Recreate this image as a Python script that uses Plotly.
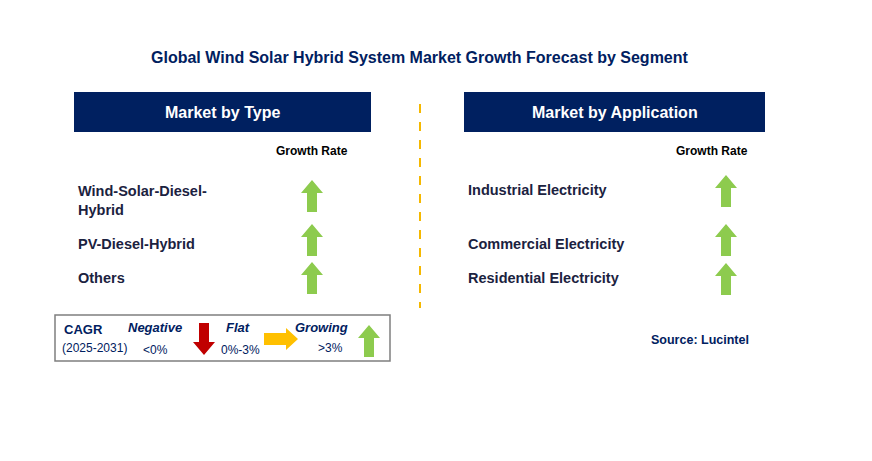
import plotly.graph_objects as go

title = "Global Wind Solar Hybrid System Market Growth Forecast by Segment"
type_labels = ["Wind-Solar-Diesel-<br>Hybrid", "PV-Diesel-Hybrid", "Others"]
type_growth = ["up", "up", "up"]
app_labels = ["Industrial Electricity", "Commercial Electricity", "Residential Electricity"]
app_growth = ["up", "up", "up"]
legend_names = ["Negative", "Flat", "Growing"]
legend_ranges = ["<0%", "0%-3%", ">3%"]

NAVY = "#002060"
TXT = "#1B2240"
GREEN = "#8DCB4E"

fig = go.Figure()
shapes = []
ann = []

def arrow(cx, cy, direction, color, L=32, W=22, S=10, H=13):
    if direction == "up":
        top, bot = cy - L/2, cy + L/2
        pts = [(cx, top), (cx+W/2, top+H), (cx+S/2, top+H), (cx+S/2, bot),
               (cx-S/2, bot), (cx-S/2, top+H), (cx-W/2, top+H)]
    elif direction == "down":
        top, bot = cy - L/2, cy + L/2
        pts = [(cx, bot), (cx+W/2, bot-H), (cx+S/2, bot-H), (cx+S/2, top),
               (cx-S/2, top), (cx-S/2, bot-H), (cx-W/2, bot-H)]
    else:
        l, r = cx - L/2, cx + L/2
        pts = [(r, cy), (r-H, cy-W/2), (r-H, cy-S/2), (l, cy-S/2),
               (l, cy+S/2), (r-H, cy+S/2), (r-H, cy+W/2)]
    path = "M " + " L ".join(f"{x},{y}" for x, y in pts) + " Z"
    shapes.append(dict(type="path", path=path, fillcolor=color, line=dict(width=0), layer="above"))

def text(x, y, s, size=13, color=TXT, bold=True, anchor="left", italic=False):
    t = s
    if bold: t = f"<b>{t}</b>"
    if italic: t = f"<i>{t}</i>"
    ann.append(dict(x=x, y=y, text=t, showarrow=False, xanchor=anchor, yanchor="middle",
                    align=anchor if anchor != "center" else "center",
                    font=dict(size=size, color=color, family="Arial")))

text(420, 57, title, size=16, color=NAVY, anchor="center")
for x0, x1, lab in [(74, 371, "Market by Type"), (464, 765, "Market by Application")]:
    shapes.append(dict(type="rect", x0=x0, x1=x1, y0=92, y1=132, fillcolor=NAVY, line=dict(width=0)))
    text((x0+x1)/2, 112, lab, size=16, color="white", anchor="center")
text(312, 151, "Growth Rate", size=12, color="black", anchor="center")
text(712, 151, "Growth Rate", size=12, color="black", anchor="center")

ly = [200, 244, 278]
ay = [196, 240, 278]
for lab, g, y, a in zip(type_labels, type_growth, ly, ay):
    text(76, y, lab, size=14.5)
    arrow(312, a, g, GREEN)
ry = [190, 244, 278]
ray = [191, 240, 279]
for lab, g, y, a in zip(app_labels, app_growth, ry, ray):
    text(466, y, lab, size=14.5)
    arrow(726, a, g, GREEN)

shapes.append(dict(type="line", x0=420, x1=420, y0=104, y1=308, line=dict(color="#F5B800", width=2, dash="dash")))

shapes.append(dict(type="rect", x0=55, x1=390, y0=315, y1=361, line=dict(color="#7F7F7F", width=1.5), fillcolor="white"))
text(62, 329, "CAGR", size=13, color=NAVY)
text(60, 348, "(2025-2031)", size=12, color=NAVY, bold=False)
text(155, 327, legend_names[0], size=13, color=NAVY, italic=True, anchor="center")
text(155, 350, legend_ranges[0], size=12, color=NAVY, bold=False, anchor="center")
arrow(204, 339, "down", "#C00000")
text(238, 327, legend_names[1], size=13, color=NAVY, italic=True, anchor="center")
text(240, 350, legend_ranges[1], size=12, color=NAVY, bold=False, anchor="center")
arrow(281, 339, "right", "#FFC000", L=34, W=22, S=12, H=12)
text(321, 327, legend_names[2], size=13, color=NAVY, italic=True, anchor="center")
text(330, 348, legend_ranges[2], size=12, color=NAVY, bold=False, anchor="center")
arrow(369, 341, "up", GREEN)

text(700, 340, "Source: Lucintel", size=12.5, color=NAVY, anchor="center")

fig.update_layout(width=872, height=461, margin=dict(l=0, r=0, t=0, b=0),
                  paper_bgcolor="white", plot_bgcolor="white",
                  xaxis=dict(range=[8, 880], visible=False, fixedrange=True),
                  yaxis=dict(range=[469, 8], visible=False, fixedrange=True),
                  shapes=shapes, annotations=ann, showlegend=False)
fig.write_html("out.html")
